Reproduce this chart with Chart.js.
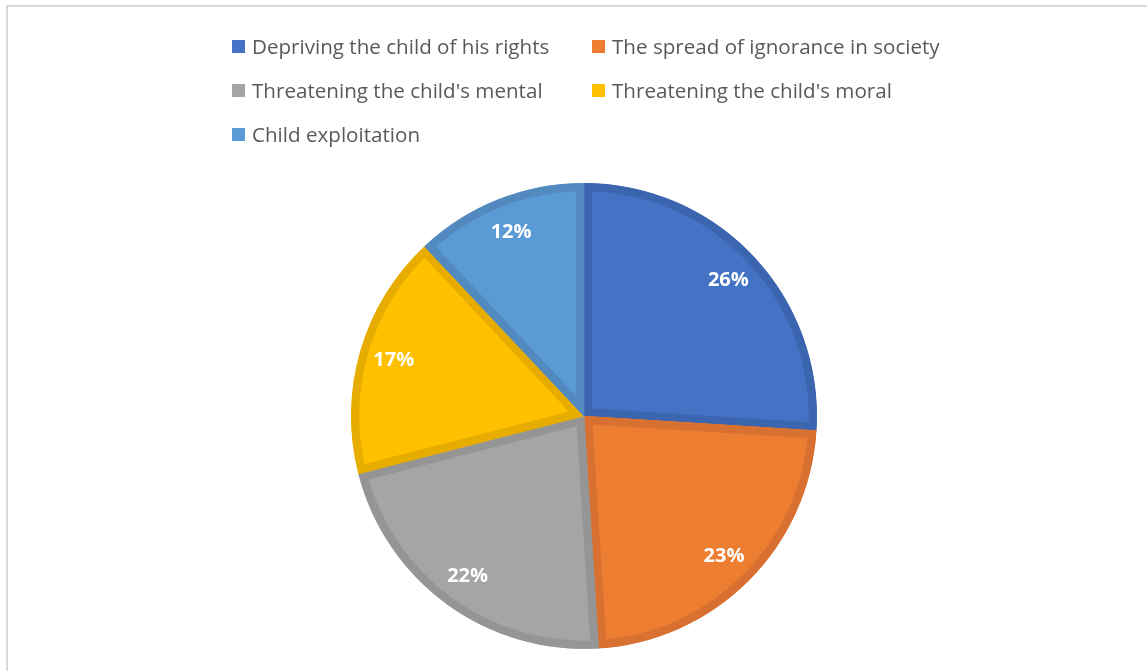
<!DOCTYPE html>
<html>
<head>
<meta charset="utf-8">
<script src="https://cdn.jsdelivr.net/npm/chart.js@4.4.1/dist/chart.umd.min.js"></script>
<style>
  html, body { margin: 0; padding: 0; background: #fff; }
  #wrap { position: relative; width: 1147px; height: 671px; overflow: hidden; }
  #frame {
    position: absolute; left: 6px; top: 5px; width: 1200px; height: 720px;
    border-left: 2px solid #d9d9d9; border-top: 2px solid #d9d9d9;
  }
  #chartBox { position: absolute; left: 0; top: 0; width: 1147px; height: 671px; }
  #legend {
    position: absolute; left: 232px; top: 30px;
    display: grid; grid-template-columns: 360px 360px; grid-auto-rows: 44px;
    font-family: 'Open Sans', sans-serif; font-size: 20.6px; color: #595959;
  }
  .item { display: flex; align-items: center; height: 32px; white-space: nowrap; }
  .box { width: 13px; height: 13px; margin-right: 7px; flex: none; }
</style>
</head>
<body>
<div id="wrap">
  <div id="frame"></div>
  <div id="chartBox"><canvas id="pie"></canvas></div>
  <div id="legend"></div>
</div>
<script>
// ---- data ----
const categories = [
  'Depriving the child of his rights',
  'The spread of ignorance in society',
  "Threatening the child's mental",
  "Threatening the child's moral",
  'Child exploitation'
];
const shares = [26, 23, 22, 17, 12];

const fillColors = ['#4472C4', '#ED7D31', '#A5A5A5', '#FFC000', '#5B9BD5'];
const edgeColors = ['#3C65AF', '#D77030', '#959595', '#E6AD00', '#528AC0'];

// white % labels inside each slice
const pctLabels = {
  id: 'pctLabels',
  afterDatasetsDraw(chart) {
    const ctx = chart.ctx;
    const meta = chart.getDatasetMeta(0);
    ctx.save();
    ctx.fillStyle = '#FFFFFF';
    ctx.font = 'bold 20px "Open Sans", sans-serif';
    ctx.textAlign = 'center';
    ctx.textBaseline = 'middle';
    meta.data.forEach((arc, i) => {
      const p = arc.getProps(['x', 'y', 'startAngle', 'endAngle', 'outerRadius'], true);
      const a = (p.startAngle + p.endAngle) / 2;
      const r = p.outerRadius * 0.85;
      ctx.fillText(shares[i] + '%', p.x + Math.cos(a) * r, p.y + Math.sin(a) * r);
    });
    ctx.restore();
  }
};

const chart = new Chart(document.getElementById('pie').getContext('2d'), {
  type: 'pie',
  data: {
    labels: categories,
    datasets: [{
      data: shares,
      backgroundColor: fillColors,
      borderColor: edgeColors,
      borderWidth: 8,
      borderAlign: 'inner',
      hoverOffset: 0,
      offset: 0,
    }]
  },
  options: {
    responsive: true,
    maintainAspectRatio: false,
    animation: false,
    layout: { padding: { top: 183, bottom: 22, left: 21, right: 0 } },
    plugins: {
      legend: { display: false },
      tooltip: { enabled: false }
    }
  },
  plugins: [pctLabels]
});

// html legend in a two-column grid, built from the same arrays
const legendEl = document.getElementById('legend');
categories.forEach((name, i) => {
  const item = document.createElement('div');
  item.className = 'item';
  const box = document.createElement('span');
  box.className = 'box';
  box.style.background = fillColors[i];
  const txt = document.createElement('span');
  txt.textContent = name;
  item.appendChild(box);
  item.appendChild(txt);
  legendEl.appendChild(item);
});
</script>
</body>
</html>
